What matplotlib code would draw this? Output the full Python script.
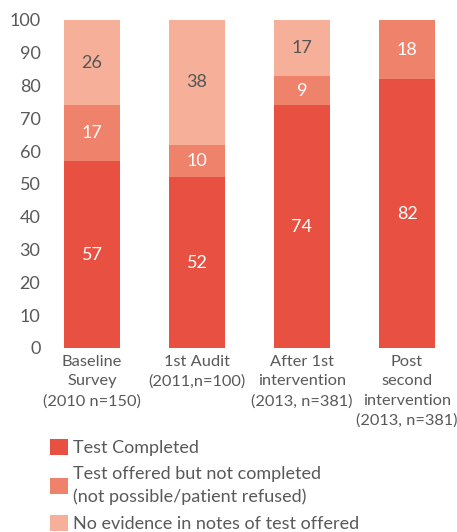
import matplotlib.pyplot as plt
import numpy as np

categories = ["Baseline\nSurvey\n(2010 n=150)", "1st Audit\n(2011,n=100)",
              "After 1st\nintervention\n(2013, n=381)",
              "Post\nsecond\nintervention\n(2013, n=381)"]
completed = [57, 52, 74, 82]
not_completed = [17, 10, 9, 18]
no_evidence = [26, 38, 17, 0]
series_labels = ["Test Completed",
                 "Test offered but not completed\n(not possible/patient refused)",
                 "No evidence in notes of test offered"]

colors = ["#E85142", "#EF826B", "#F6B09A"]
text_colors = ["white", "white", "#555555"]
gray = "#595959"

plt.rcParams["font.family"] = ["Lato", "DejaVu Sans"]

fig = plt.figure(figsize=(4.57, 5.32), dpi=100)
W, H = 457, 532
ax = fig.add_axes([64 / W, 1 - 348 / H, (435 - 64) / W, (348 - 20) / H])

x = np.arange(len(categories))
width = 56 / 105
bottom = np.zeros(len(categories))
handles = []
for vals, col, tc, lab in zip([completed, not_completed, no_evidence],
                              colors, text_colors, series_labels):
    vals = np.array(vals, dtype=float)
    bars = ax.bar(x, vals, width, bottom=bottom, color=col, label=lab)
    handles.append(bars)
    for xi, b, v in zip(x, bottom, vals):
        if v > 0:
            ax.text(xi, b + v / 2, f"{int(v)}", ha="center", va="center",
                    color=tc, fontsize=13)
    bottom += vals

ax.set_xlim(-width / 2, len(categories) - 1 + width / 2)
ax.set_ylim(0, 100)
ax.set_yticks(range(0, 101, 10))
ax.set_xticks(x)
ax.set_xticklabels(categories, linespacing=1.5, fontsize=11.8)
ax.tick_params(axis="both", length=0, labelcolor=gray)
ax.tick_params(axis="y", pad=17, labelsize=13)
ax.tick_params(axis="x", pad=5)
for s in ax.spines.values():
    s.set_visible(False)

leg = fig.legend(handles=handles, labels=series_labels, loc="upper left",
                 bbox_to_anchor=(50 / W, 1 - 439 / H), frameon=False,
                 fontsize=13, labelcolor=gray, handlelength=1.0, handleheight=1.0,
                 handletextpad=0.3, labelspacing=0.55, borderaxespad=0,
                 borderpad=0)
for t in leg.get_texts():
    t.set_linespacing(1.45)

fig.savefig("out.png", dpi=100)
